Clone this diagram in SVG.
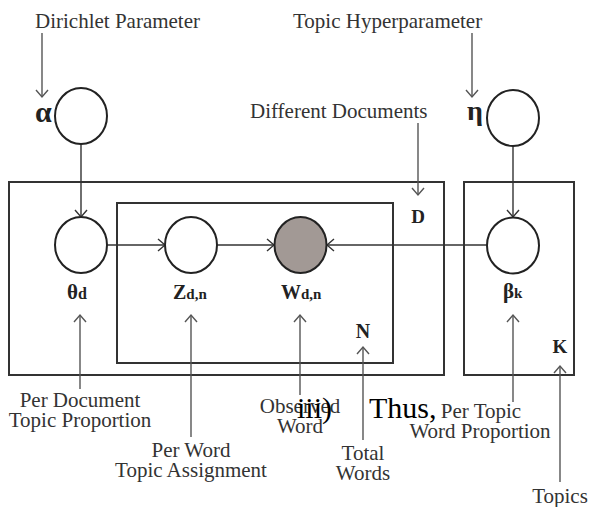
<svg xmlns="http://www.w3.org/2000/svg" width="590" height="507" viewBox="0 0 590 507">
<defs>
<marker id="ah" markerUnits="userSpaceOnUse" markerWidth="12" markerHeight="16" refX="8" refY="7" orient="auto">
<path d="M1,1 L8,7 L1,13" fill="none" stroke="#333" stroke-width="1.4"/>
</marker>
<marker id="ahl" markerUnits="userSpaceOnUse" markerWidth="12" markerHeight="16" refX="8" refY="7" orient="auto">
<path d="M1,1 L8,7 L1,13" fill="none" stroke="#555" stroke-width="1.4"/>
</marker>
</defs>
<style>
.lbl{font-family:"Liberation Serif","Times New Roman",serif;font-size:21px;fill:#333}
.big{font-family:"Liberation Serif","Times New Roman",serif;font-size:30px;fill:#000}
.sym{font-family:"Liberation Serif","Times New Roman",serif;font-weight:bold;fill:#222}
.box{fill:none;stroke:#333;stroke-width:2}
.node{fill:#fff;stroke:#222;stroke-width:2}
.obs{fill:#a29995;stroke:#222;stroke-width:2}
.edge{fill:none;stroke:#333;stroke-width:1.4;marker-end:url(#ah)}
.ptr{fill:none;stroke:#555;stroke-width:1.4;marker-end:url(#ahl)}
</style>
<rect width="590" height="507" fill="#fff"/>

<g id="plates">
<rect id="plate-D" class="box" x="9" y="182" width="435" height="193"/>
<rect id="plate-N" class="box" x="117" y="203" width="276" height="160"/>
<rect id="plate-K" class="box" x="464" y="182" width="110" height="193"/>
<text class="sym" x="418" y="223" font-size="19" text-anchor="middle">D</text>
<text class="sym" x="363" y="338" font-size="20" text-anchor="middle">N</text>
<text class="sym" x="560" y="353" font-size="19" text-anchor="middle">K</text>
</g>

<g id="connectors">
<line class="edge" x1="81" y1="144" x2="81" y2="217"/>
<line class="edge" x1="513" y1="146" x2="513" y2="217"/>
<line class="edge" x1="107" y1="245" x2="165" y2="245"/>
<line class="edge" x1="217" y1="245" x2="274" y2="245"/>
<line class="edge" x1="487" y1="245" x2="327" y2="245"/>
<line class="ptr" x1="42" y1="33" x2="42" y2="97"/>
<line class="ptr" x1="472" y1="33" x2="472" y2="97"/>
<line class="ptr" x1="418" y1="123" x2="418" y2="195"/>
<line class="ptr" x1="80" y1="389" x2="80" y2="315"/>
<line class="ptr" x1="191" y1="437" x2="191" y2="315"/>
<line class="ptr" x1="300" y1="395" x2="300" y2="315"/>
<line class="ptr" x1="363" y1="440" x2="363" y2="347"/>
<line class="ptr" x1="513" y1="402" x2="513" y2="315"/>
<line class="ptr" x1="560" y1="482" x2="560" y2="366"/>
</g>

<g id="alpha">
<ellipse class="node" cx="81" cy="116" rx="26" ry="28"/>
<text class="sym" x="35" y="122" font-size="30">α</text>
</g>
<g id="eta">
<ellipse class="node" cx="513" cy="118" rx="26" ry="28"/>
<text class="sym" x="467" y="120" font-size="28">η</text>
</g>
<g id="theta">
<ellipse class="node" cx="81" cy="245" rx="26" ry="28"/>
<text class="sym" x="67" y="299" font-size="21">θ<tspan font-size="16">d</tspan></text>
</g>
<g id="z">
<ellipse class="node" cx="191" cy="245" rx="26" ry="28"/>
<text class="sym" x="173" y="299" font-size="20">Z<tspan font-size="15">d,n</tspan></text>
</g>
<g id="w">
<ellipse class="obs" cx="300.5" cy="245" rx="26" ry="28"/>
<text class="sym" x="281" y="299" font-size="20">W<tspan font-size="15">d,n</tspan></text>
</g>
<g id="beta">
<ellipse class="node" cx="513" cy="245.5" rx="26" ry="28"/>
<text class="sym" x="503" y="298" font-size="21">β<tspan font-size="15">k</tspan></text>
</g>

<g id="labels">
<text class="lbl" x="35" y="28">Dirichlet Parameter</text>
<text class="lbl" x="293" y="28">Topic Hyperparameter</text>
<text class="lbl" x="250" y="118">Different Documents</text>
<text class="lbl" text-anchor="middle"><tspan x="80" y="407">Per Document</tspan><tspan x="80" y="427">Topic Proportion</tspan></text>
<text class="lbl" text-anchor="middle"><tspan x="191" y="457">Per Word</tspan><tspan x="191" y="477">Topic Assignment</tspan></text>
<text class="lbl" text-anchor="middle"><tspan x="300" y="413">Observed</tspan><tspan x="300" y="433">Word</tspan></text>
<text class="lbl" text-anchor="middle"><tspan x="363" y="460">Total</tspan><tspan x="363" y="480">Words</tspan></text>
<text class="lbl" text-anchor="middle"><tspan x="481" y="418">Per Topic</tspan><tspan x="480" y="438">Word Proportion</tspan></text>
<text class="lbl" x="560" y="503" text-anchor="middle">Topics</text>
<text class="big" x="297" y="418">iii)</text>
<text class="big" x="369" y="418">Thus,</text>
</g>
</svg>
